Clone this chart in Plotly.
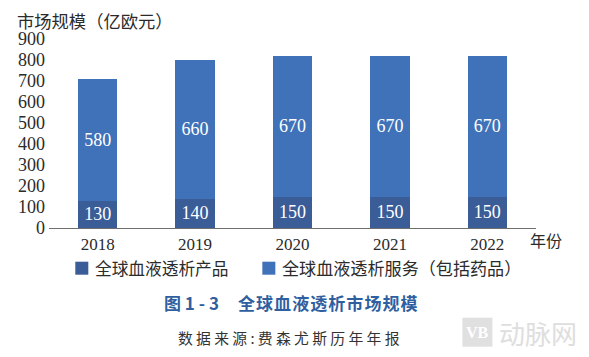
import plotly.graph_objects as go

years = ["2018", "2019", "2020", "2021", "2022"]
products = [130, 140, 150, 150, 150]
services = [580, 660, 670, 670, 670]
y_ticks = [0, 100, 200, 300, 400, 500, 600, 700, 800, 900]
product_name = "全球血液透析产品"
service_name = "全球血液透析服务（包括药品）"

SERIF = "'Liberation Serif','Noto Sans CJK SC',serif"
CJK = "'Noto Sans CJK SC',sans-serif"
DARK = "#3a5c97"
BLUE = "#3f72b9"
TXT = "#2b2b2b"

PAGE = 8  # the page's own margin around the figure
L, R, T, B = 48.7, 535.6, 39.3, 228.3
PW, PH = R - L, B - T
def px(x): return (x - L) / PW
def py(y): return (B - y) / PH

fig = go.Figure()
for name, vals, color in [(product_name, products, DARK), (service_name, services, BLUE)]:
    fig.add_bar(name=name, x=years, y=vals, marker=dict(color=color, line=dict(width=0)),
                text=vals, textposition="inside", insidetextanchor="middle",
                textfont=dict(color="white", size=18, family=SERIF), constraintext="none",
                showlegend=False)

def note(text, x, y, size, color=TXT, family=CJK, bold=False, anchor="center"):
    fig.add_annotation(text=f"<b>{text}</b>" if bold else text, xref="paper", yref="paper",
                       x=px(x), y=py(y), xanchor=anchor, yanchor="middle", showarrow=False,
                       font=dict(size=size, color=color, family=family))

def box(x0, x1, y0, y1, color):
    fig.add_shape(type="rect", xref="paper", yref="paper", x0=px(x0), x1=px(x1),
                  y0=py(y1), y1=py(y0), fillcolor=color, line=dict(width=0), layer="above")

fig.update_layout(
    width=589 - PAGE, height=357 - PAGE, barmode="stack", bargap=0.595,
    margin=dict(l=L - PAGE, r=589 - R, t=T - PAGE, b=357 - B), paper_bgcolor="white", plot_bgcolor="white",
    showlegend=False,
    xaxis=dict(showline=True, linecolor="#6e6e6e", linewidth=1.2,
               tickfont=dict(size=17, color=TXT, family=SERIF), ticks="", automargin=False),
    yaxis=dict(range=[0, 900], tickvals=y_ticks, showgrid=False, automargin=False, ticklabelstandoff=3,
               zeroline=False, ticks="", tickfont=dict(size=18, color=TXT, family=SERIF)),
)

note("市场规模（亿欧元）", 15, 20.5, 17.3, anchor="left")
note("年份", 546, 240, 16)

# legend, with the swatch and label spacing of the reference
box(75, 88, 262, 275, DARK)
note(product_name, 93, 268, 16.7, anchor="left")
box(262, 275, 262, 275, BLUE)
note(service_name, 280, 268, 17.1, anchor="left")

note("图 1 - 3", 191.5, 303, 17, color="#2f5f9f", bold=True)
note("\u200a".join("全球血液透析市场规模"), 328, 303, 17, color="#2f5f9f", bold=True)
note("数 据 来 源 : 费 森 尤 斯 历 年 年 报", 289, 338, 14.8, color="#333333")

# watermark
fig.add_shape(type="rect", xref="paper", yref="paper", x0=px(462), x1=px(492), y0=py(347), y1=py(318),
              fillcolor="#e0e0e0", line=dict(width=0), layer="above")
note("VB", 477, 333, 16, color="white", bold=True, family=SERIF)
note("动脉网", 538, 333, 26, color="#dedede")

fig.write_html("out.html")
